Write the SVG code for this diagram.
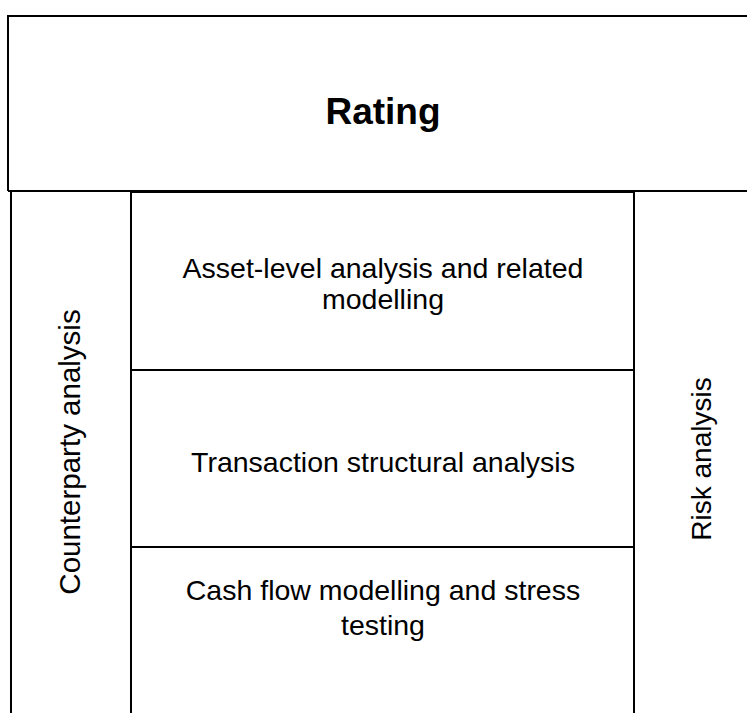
<svg xmlns="http://www.w3.org/2000/svg" width="747" height="713" viewBox="0 0 747 713">
<style>
.ln{stroke:#000;stroke-width:2;fill:none}
.t{font-family:"Liberation Sans",Arial,sans-serif;font-size:28.5px;fill:#000;text-anchor:middle}
.b{font-weight:bold;font-size:37px}
</style>
<rect width="747" height="713" fill="#fff"/>
<g id="rating">
<path class="ln" d="M8,191 V16 H747 M8,191 H747"/>
<text class="t b" x="383" y="124">Rating</text>
</g>
<g id="counterparty">
<path class="ln" d="M11,191 V713"/>
<text class="t" style="font-size:29.5px" transform="translate(80,452) rotate(-90)">Counterparty analysis</text>
</g>
<g id="asset">
<rect class="ln" x="131" y="192" width="503" height="178"/>
<text class="t" x="383" y="278">Asset-level analysis and related</text>
<text class="t" x="383" y="309">modelling</text>
</g>
<g id="transaction">
<path class="ln" d="M131,370 V547 M634,370 V547 M131,547 H634"/>
<text class="t" x="383" y="472">Transaction structural analysis</text>
</g>
<g id="cashflow">
<path class="ln" d="M131,547 V713 M634,547 V713"/>
<text class="t" x="383" y="600">Cash flow modelling and stress</text>
<text class="t" x="383" y="635">testing</text>
</g>
<g id="risk">
<text class="t" style="font-size:28px" transform="translate(711,459) rotate(-90)">Risk analysis</text>
</g>
<g id="connectors"></g>
</svg>
